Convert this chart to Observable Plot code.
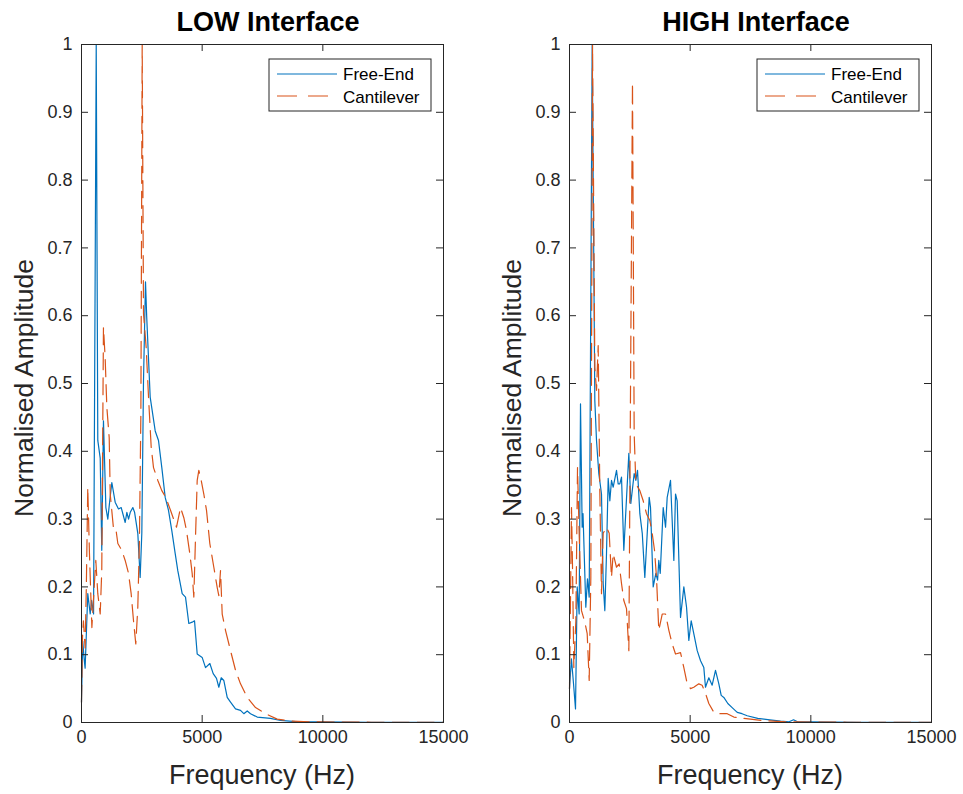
<!DOCTYPE html>
<html><head><meta charset="utf-8">
<script src="https://cdn.jsdelivr.net/npm/d3@7"></script>
<script src="https://cdn.jsdelivr.net/npm/@observablehq/plot@0.6"></script>
<style>
body{margin:0;background:#fff;}
#wrap{position:relative;width:963px;height:794px;font-family:"Liberation Sans",Arial,sans-serif;}
#wrap > svg{position:absolute;top:0;}
</style></head>
<body><div id="wrap"></div>
<script>
// ---- data (frequency in Hz, normalised amplitude) ----
const xTicks = [0, 5000, 10000, 15000];
const yTicks = [0, 0.1, 0.2, 0.3, 0.4, 0.5, 0.6, 0.7, 0.8, 0.9, 1];
const panelTitles = ["LOW Interface", "HIGH Interface"];
const seriesNames = ["Free-End", "Cantilever"];

const lowFreeHz  = [0,50,120,150,260,360,420,500,610,675,775,840,910,1010,1090,1180,1257,1395,1533,1645,1810,1880,1950,2020,2127,2200,2333,2430,2500,2569,2652,2700,2846,3054,3191,3328,3468,3605,3742,3883,3990,4172,4310,4447,4586,4683,4794,5000,5139,5318,5457,5594,5690,5790,5897,6038,6175,6382,6589,6726,6867,7004,7281,7832,8247,9000,10000,11000,12000,13000,14000,15000];
const lowFreeAmp = [0.03,0.12,0.09,0.08,0.19,0.16,0.18,0.16,1.0,0.416,0.39,0.254,0.445,0.317,0.30,0.33,0.354,0.325,0.315,0.317,0.295,0.31,0.30,0.31,0.317,0.31,0.279,0.214,0.28,0.504,0.65,0.60,0.48,0.43,0.416,0.376,0.332,0.313,0.283,0.249,0.224,0.19,0.185,0.146,0.148,0.15,0.101,0.096,0.081,0.087,0.072,0.065,0.052,0.066,0.062,0.037,0.03,0.02,0.018,0.013,0.017,0.013,0.008,0.006,0.003,0.001,0.0008,0.0005,0.0004,0.0003,0.0002,0.0002];

const lowCantHz  = [0,40,80,150,200,260,330,430,510,593,675,775,840,910,980,1050,1148,1190,1326,1422,1506,1670,1810,1948,2058,2155,2250,2333,2400,2460,2515,2569,2680,2777,2888,2984,3163,3328,3494,3688,3937,4103,4240,4351,4488,4586,4654,4724,4794,4862,4960,5068,5180,5317,5483,5624,5690,5760,5830,5967,6175,6382,6589,6867,7211,7625,8110,8700,9500,10500,12000,13500,15000];
const lowCantAmp = [0.03,0.125,0.15,0.11,0.2,0.347,0.249,0.14,0.19,0.239,0.19,0.16,0.224,0.583,0.538,0.465,0.42,0.337,0.286,0.286,0.264,0.254,0.239,0.22,0.19,0.15,0.116,0.17,0.268,0.455,1.0,0.603,0.553,0.48,0.406,0.376,0.357,0.342,0.332,0.313,0.288,0.317,0.302,0.283,0.249,0.22,0.185,0.273,0.357,0.372,0.357,0.337,0.313,0.264,0.229,0.199,0.187,0.224,0.16,0.136,0.106,0.077,0.057,0.037,0.022,0.013,0.005,0.002,0.001,0.0006,0.0004,0.0003,0.0002];

const highFreeHz  = [0,80,160,249,318,400,456,525,560,676,745,816,940,1049,1119,1215,1326,1396,1464,1533,1603,1672,1740,1810,1948,2017,2086,2155,2251,2459,2541,2680,2749,2818,2915,3015,3121,3302,3357,3468,3578,3650,3700,3760,3883,3980,4048,4186,4324,4393,4462,4600,4738,4850,4945,5043,5150,5292,5430,5566,5635,5773,5911,6050,6188,6286,6395,6560,6740,6950,7150,7364,7800,8300,8744,9100,9283,9450,10000,11000,12000,13000,14000,15000];
const highFreeAmp = [0.05,0.094,0.06,0.02,0.2,0.16,0.47,0.288,0.308,0.17,0.212,0.185,1.0,0.475,0.416,0.367,0.337,0.205,0.165,0.249,0.36,0.327,0.357,0.347,0.372,0.352,0.352,0.362,0.254,0.397,0.323,0.367,0.357,0.372,0.308,0.279,0.214,0.332,0.317,0.2,0.22,0.21,0.239,0.22,0.317,0.288,0.332,0.357,0.239,0.337,0.327,0.155,0.2,0.17,0.121,0.15,0.131,0.106,0.091,0.081,0.052,0.066,0.055,0.077,0.057,0.04,0.037,0.028,0.022,0.015,0.013,0.01,0.006,0.004,0.002,0.001,0.004,0.001,0.0008,0.0005,0.0004,0.0003,0.0002,0.0002];

const highCantHz  = [0,83,125,180,263,332,400,497,636,733,816,884,955,1049,1119,1189,1256,1326,1396,1533,1645,1740,1810,1948,2058,2155,2251,2362,2459,2610,2680,2749,2915,3054,3191,3328,3427,3523,3605,3700,3842,3980,4117,4255,4393,4600,4738,4877,5014,5150,5358,5496,5635,5773,5980,6120,6535,6810,7223,8000,9000,10000,11500,13000,15000];
const highCantAmp = [0.05,0.317,0.229,0.081,0.15,0.376,0.279,0.165,0.148,0.131,0.062,0.214,1.0,0.524,0.49,0.556,0.342,0.19,0.279,0.288,0.279,0.214,0.249,0.229,0.234,0.205,0.18,0.168,0.106,0.944,0.426,0.352,0.342,0.327,0.308,0.298,0.279,0.254,0.214,0.136,0.16,0.16,0.136,0.116,0.101,0.103,0.081,0.057,0.05,0.052,0.057,0.055,0.043,0.028,0.015,0.013,0.013,0.008,0.006,0.003,0.001,0.0006,0.0004,0.0003,0.0002];

// ---- styles ----
const BLUE = "#0072BD", ORANGE = "#D95319", AX = "#262626";
const DASH = "17,8";
const plotW = 362, plotH = 678, H = 794;

const toRows = (hz, amp) => hz.map((f, i) => ({f, a: amp[i]}));

function panel(free, cant, left, width) {
  const mr = width - 81 - plotW;
  const p = Plot.plot({
    width, height: H,
    marginLeft: 81, marginRight: mr, marginTop: 44, marginBottom: H - 44 - plotH,
    style: {fontFamily: "Liberation Sans, Arial, sans-serif", fontSize: "18px", color: AX, background: "transparent", overflow: "visible"},
    x: {domain: [0, 15000]},
    y: {domain: [0, 1]},
    marks: [
      Plot.line(free, {x: "f", y: "a", stroke: BLUE, strokeWidth: 1.2}),
      Plot.line(cant, {x: "f", y: "a", stroke: ORANGE, strokeWidth: 1.2, strokeDasharray: DASH}),
      Plot.tickY(yTicks, {y: d => d, insetRight: plotW - 7, stroke: AX}),
      Plot.tickY(yTicks, {y: d => d, insetLeft: plotW - 7, stroke: AX}),
      Plot.tickX(xTicks, {x: d => d, insetTop: plotH - 7, stroke: AX}),
      Plot.tickX(xTicks, {x: d => d, insetBottom: plotH - 7, stroke: AX}),
      Plot.frame({stroke: AX}),
      Plot.axisY(yTicks, {tickSize: 0, tickPadding: 9, tickFormat: d => String(d), label: null, fontSize: 18}),
      Plot.axisX(xTicks, {tickSize: 0, tickPadding: 8, tickFormat: d => String(d), label: null, fontSize: 18})
    ]
  });
  p.style.left = left + "px";
  return p;
}

const wrap = document.getElementById("wrap");
wrap.appendChild(panel(toRows(lowFreeHz, lowFreeAmp), toRows(lowCantHz, lowCantAmp), 0, 480));
wrap.appendChild(panel(toRows(highFreeHz, highFreeAmp), toRows(highCantHz, highCantAmp), 488, 475));

// ---- overlay text: titles, axis labels, legends ----
const ov = d3.select(wrap).append("svg").attr("width", 963).attr("height", H)
  .style("font-family", "Liberation Sans, Arial, sans-serif");
[0, 488].forEach((off, i) => {
  const cx = off + 81 + plotW / 2;
  ov.append("text").attr("x", cx + 6).attr("y", 31).attr("text-anchor", "middle")
    .attr("font-weight", "bold").attr("font-size", 27).attr("fill", "#000").text(panelTitles[i]);
  ov.append("text").attr("x", cx).attr("y", 784).attr("text-anchor", "middle")
    .attr("font-size", 27).attr("fill", AX).text("Frequency (Hz)");
  ov.append("text").attr("transform", `translate(${off + 33},${44 + plotH / 2 + 5}) rotate(-90)`)
    .attr("text-anchor", "middle").attr("font-size", 26.5).attr("fill", AX).text("Normalised Amplitude");
  const lg = ov.append("g").attr("transform", `translate(${off + 269},59)`);
  lg.append("rect").attr("width", 162).attr("height", 52).attr("fill", "#fff").attr("stroke", AX);
  lg.append("line").attr("x1", 8).attr("x2", 68).attr("y1", 15).attr("y2", 15).attr("stroke", BLUE).attr("stroke-width", 1.2);
  lg.append("line").attr("x1", 8).attr("x2", 68).attr("y1", 37).attr("y2", 37).attr("stroke", ORANGE).attr("stroke-width", 1.2).attr("stroke-dasharray", "20,11");
  lg.append("text").attr("x", 74).attr("y", 21).attr("font-size", 17).attr("fill", "#000").text(seriesNames[0]);
  lg.append("text").attr("x", 74).attr("y", 44).attr("font-size", 17).attr("fill", "#000").text(seriesNames[1]);
});
</script>
</body></html>
